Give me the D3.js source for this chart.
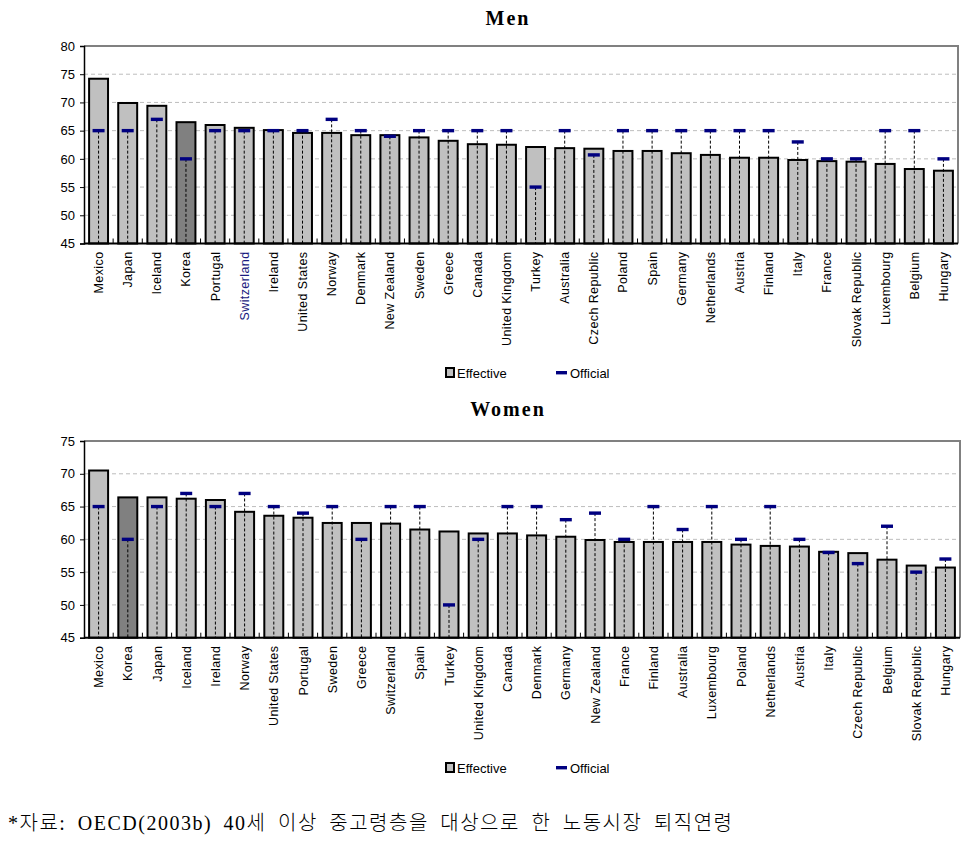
<!DOCTYPE html>
<html><head><meta charset="utf-8">
<script src="https://cdn.jsdelivr.net/npm/d3@7"></script>
<style>
body{margin:0;background:#fff;}
svg{display:block;}
</style></head>
<body>
<svg id="chart" width="975" height="845"></svg>
<script>
const menCountries = ["Mexico","Japan","Iceland","Korea","Portugal","Switzerland","Ireland","United States","Norway","Denmark","New Zealand","Sweden","Greece","Canada","United Kingdom","Turkey","Australia","Czech Republic","Poland","Spain","Germany","Netherlands","Austria","Finland","Italy","France","Slovak Republic","Luxembourg","Belgium","Hungary"];
const menEffective = [74.2,69.9,69.4,66.5,66.0,65.5,65.1,64.6,64.6,64.2,64.2,63.8,63.2,62.6,62.5,62.1,61.9,61.8,61.4,61.4,61.0,60.7,60.2,60.2,59.8,59.6,59.5,59.1,58.2,57.9];
const menOfficial  = [65,65,67,60,65,65,65,65,67,65,64,65,65,65,65,55,65,60.7,65,65,65,65,65,65,63,60,60,65,65,60];

const womenCountries = ["Mexico","Korea","Japan","Iceland","Ireland","Norway","United States","Portugal","Sweden","Greece","Switzerland","Spain","Turkey","United Kingdom","Canada","Denmark","Germany","New Zealand","France","Finland","Australia","Luxembourg","Poland","Netherlands","Austria","Italy","Czech Republic","Belgium","Slovak Republic","Hungary"];
const womenEffective = [70.5,66.4,66.4,66.2,66.0,64.2,63.6,63.3,62.5,62.5,62.4,61.5,61.2,60.9,60.9,60.6,60.4,59.9,59.6,59.6,59.6,59.6,59.2,59.0,58.9,58.1,57.9,56.9,56.0,55.7];
const womenOfficial  = [65,60,65,67,65,67,65,64,65,60,65,65,50,60,65,65,63,64,60,65,61.5,65,60,65,60,58,56.3,62,55,57];

const menTicks = [45,50,55,60,65,70,75,80];
const womenTicks = [45,50,55,60,65,70,75];
const highlight = "Korea";
const legendLabels = ["Effective","Official"];
const footnote = "*자료: OECD(2003b) 40세 이상 중고령층을 대상으로 한 노동시장 퇴직연령";

const svg = d3.select("#chart");

function panel(cfg){
  const g = svg.append("g");
  const x = d3.scaleBand().domain(cfg.countries).range([cfg.left, cfg.right]).paddingInner(0.35).paddingOuter(0.175);
  const y = d3.scaleLinear().domain([cfg.ticks[0], cfg.ticks[cfg.ticks.length-1]]).range([cfg.bottom, cfg.top]);

  g.append("text").attr("x", 508).attr("y", cfg.titleY).attr("text-anchor","middle")
    .style("font-family","'Liberation Serif','Times New Roman',serif").style("font-weight","bold")
    .style("font-size","20px").style("letter-spacing","2px").attr("fill","#000").text(cfg.title);

  g.selectAll(".grid").data(cfg.ticks.slice(1,-1)).join("line")
    .attr("x1", cfg.left).attr("x2", cfg.right).attr("y1", d=>y(d)).attr("y2", d=>y(d))
    .attr("stroke","#bdbdbd").attr("stroke-width",1).attr("stroke-dasharray","4,3");

  g.append("path").attr("d", `M${cfg.left},${cfg.top}H${cfg.right}V${cfg.bottom}`)
    .attr("fill","none").attr("stroke","#808080").attr("stroke-width",2);

  g.selectAll(".bar").data(cfg.countries).join("rect")
    .attr("x", d=>x(d)).attr("width", x.bandwidth())
    .attr("y", (d,i)=>y(cfg.effective[i])).attr("height", (d,i)=>cfg.bottom - y(cfg.effective[i]))
    .attr("fill", d=> d===highlight ? "#808080" : "#c0c0c0")
    .attr("stroke","#000").attr("stroke-width",2);

  g.selectAll(".drop").data(cfg.countries).join("line")
    .attr("x1", d=>x(d)+x.bandwidth()/2).attr("x2", d=>x(d)+x.bandwidth()/2)
    .attr("y1", (d,i)=>y(cfg.official[i])).attr("y2", cfg.bottom)
    .attr("stroke","#000").attr("stroke-width",1).attr("stroke-dasharray","3,2");

  g.selectAll(".off").data(cfg.countries).join("rect")
    .attr("x", d=>x(d)+x.bandwidth()/2-6).attr("width",12)
    .attr("y", (d,i)=>y(cfg.official[i])-1.7).attr("height",3.4)
    .attr("fill","#000080");

  const yAxis = d3.axisLeft(y).tickValues(cfg.ticks).tickSize(4).tickFormat(d3.format("d"));
  const ya = g.append("g").attr("transform",`translate(${cfg.left},0)`).call(yAxis);
  ya.select(".domain").attr("stroke","#000").attr("stroke-width",1.5);
  ya.selectAll(".tick line").attr("stroke","#000");
  ya.selectAll(".tick text").attr("x",-9).style("font-family","'Liberation Sans',Arial,sans-serif").style("font-size","13px").attr("fill","#000");

  const bounds = cfg.countries.slice(1).map(d=>x(d) - x.step()*x.paddingInner()/2);
  g.selectAll(".bt").data(bounds).join("line")
    .attr("x1",d=>d).attr("x2",d=>d).attr("y1",cfg.bottom).attr("y2",cfg.bottom-5)
    .attr("stroke","#000").attr("stroke-width",1);
  g.append("line").attr("x1",cfg.left).attr("x2",cfg.right).attr("y1",cfg.bottom).attr("y2",cfg.bottom)
    .attr("stroke","#000").attr("stroke-width",2);

  g.selectAll(".cat").data(cfg.countries).join("text")
    .attr("transform", d=>`translate(${x(d)+x.bandwidth()/2+4.5},${cfg.bottom+8}) rotate(-90)`)
    .attr("text-anchor","end")
    .style("font-family","'Liberation Sans',Arial,sans-serif").style("font-size","12.5px").style("letter-spacing","0.4px")
    .attr("fill", d=> (cfg.blue && d===cfg.blue) ? "#1a1a80" : "#000")
    .text(d=>d);

  const lg = g.append("g").attr("transform",`translate(0,${cfg.legendY})`);
  lg.append("rect").attr("x",446).attr("y",-5).attr("width",8).attr("height",9).attr("fill","#c0c0c0").attr("stroke","#000").attr("stroke-width",2);
  lg.append("text").attr("x",457).attr("y",5).style("font-family","'Liberation Sans Narrow','Liberation Sans',Arial,sans-serif").style("font-size","13px").text(legendLabels[0]);
  lg.append("rect").attr("x",556).attr("y",-2).attr("width",11).attr("height",3.4).attr("fill","#000080");
  lg.append("text").attr("x",570).attr("y",5).style("font-family","'Liberation Sans Narrow','Liberation Sans',Arial,sans-serif").style("font-size","13px").text(legendLabels[1]);
}

panel({title:"Men", titleY:25, countries:menCountries, effective:menEffective, official:menOfficial,
  ticks:menTicks, left:84, right:958, top:46, bottom:243.5, legendY:373, blue:"Switzerland"});
panel({title:"Women", titleY:416, countries:womenCountries, effective:womenEffective, official:womenOfficial,
  ticks:womenTicks, left:84, right:960, top:441, bottom:637.7, legendY:768});

svg.append("text").attr("x",8).attr("y",830)
  .style("font-family","'Liberation Serif','Noto Sans CJK KR',serif").style("font-size","20px")
  .style("font-weight","300").style("word-spacing","5px").style("letter-spacing","1.5px")
  .attr("fill","#000").text(footnote);
</script>
</body></html>
